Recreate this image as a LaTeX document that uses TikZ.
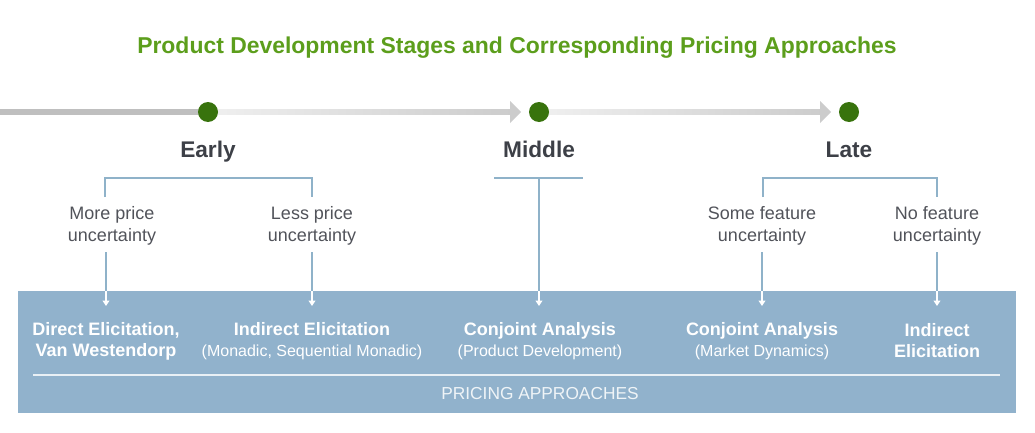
\documentclass[tikz,border=0pt]{standalone}
\usepackage{fontspec}
\setmainfont{Liberation Sans}
\usetikzlibrary{arrows.meta}
\definecolor{titlegreen}{rgb}{0.36,0.62,0.11}
\definecolor{dotgreen}{rgb}{0.22,0.45,0.05}
\definecolor{stagegray}{rgb}{0.24,0.25,0.28}
\definecolor{bracketblue}{rgb}{0.56,0.70,0.79}
\definecolor{boxblue}{rgb}{0.57,0.70,0.80}
\newcommand{\subnote}[1]{{\fontsize{12}{15}\selectfont\mdseries #1}}
\tikzset{every picture/.style={line width=0.75pt}}
\tikzset{
  stage/.style={inner sep=0.75pt, anchor=base, text=stagegray, font=\fontsize{17}{20}\selectfont\bfseries},
  cond/.style={inner sep=0.75pt, align=center, text=stagegray!90, font=\fontsize{13.5}{16.5}\selectfont},
  approach/.style={inner sep=0.75pt, align=center, text=white, font=\fontsize{13.5}{15.8}\selectfont\bfseries},
  bracket/.style={draw=bracketblue, line width=1.2pt},
  drop/.style={draw=white, line width=1pt, -{Triangle[width=5pt,length=4pt]}},
  dot/.style={circle, fill=dotgreen, minimum size=15pt, inner sep=0pt}
}

\begin{document}
\begin{tikzpicture}[x=0.75pt,y=0.75pt,yscale=-1,xscale=1]
\path[use as bounding box] (0,0) rectangle (1035,432);

% Title
\draw (517,48) node [inner sep=0.75pt, text=titlegreen, font=\fontsize{17.2}{20}\selectfont\bfseries] (title) {Product Development Stages and Corresponding Pricing Approaches};

% Timeline
\coordinate (start) at (0,112);
\coordinate (dotE) at (208,112);
\draw [line width=4pt, black!25] (start) -- (dotE);
\shade [left color=black!6, right color=black!20] (208,109.5) rectangle (512,114.5);
\shade [left color=black!6, right color=black!20] (539,109.5) rectangle (822,114.5);
\fill [black!20] (510,101) -- (521,112) -- (510,123) -- cycle;
\fill [black!20] (820,101) -- (831,112) -- (820,123) -- cycle;
\node [dot] (early dot) at (dotE) {};
\node [dot] (middle dot) at (539,112) {};
\node [dot] (late dot) at (849,112) {};

% Stage labels
\draw (208,157) node [stage] (early) {Early};
\draw (539,157) node [stage] (middle) {Middle};
\draw (849,157) node [stage] (late) {Late};

% Approaches box
\fill [boxblue] (18,291) rectangle (1016,413);
\draw [white!80!boxblue, line width=1pt] (33,375) -- (1000,375);
\draw (540,394) node [inner sep=0.75pt, text=white!85!boxblue, font=\fontsize{13}{15}\selectfont] (pa) {PRICING APPROACHES};

\draw (106,341) node [approach] (a1) {Direct Elicitation,\\Van Westendorp};
\draw (312,341) node [approach] (a2) {Indirect Elicitation\\\subnote{(Monadic, Sequential Monadic)}};
\draw (540,341) node [approach] (a3) {Conjoint Analysis\\\subnote{(Product Development)}};
\draw (762,341) node [approach] (a4) {Conjoint Analysis\\\subnote{(Market Dynamics)}};
\draw (937,341) node [approach] (a5) {Indirect\\Elicitation};

% Conditions
\draw (112,226) node [cond] (c1) {More price\\uncertainty};
\draw (312,226) node [cond] (c2) {Less price\\uncertainty};
\draw (762,226) node [cond] (c4) {Some feature\\uncertainty};
\draw (937,226) node [cond] (c5) {No feature\\uncertainty};

% Brackets
\draw [bracket] (105,197) -- (105,178) -- (312,178) -- (312,197);
\draw [bracket] (494,178) -- (583,178);
\draw [bracket] (763,197) -- (763,178) -- (937,178) -- (937,197);

% Drops into the box
\foreach \x/\n in {106/1, 312/2, 539/3, 762/4, 937/5} {
  \coordinate (top\n) at (\x,291);
  \coordinate (tip\n) at (\x,306);
}
\coordinate (from1) at (106,252);
\coordinate (from3) at (539,178);
\draw [bracket] (from1) -- (top1);
\draw [bracket] (c2.south |- 0,252) -- (top2);
\draw [bracket] (from3) -- (top3);
\draw [bracket] (c4.south |- 0,252) -- (top4);
\draw [bracket] (c5.south |- 0,252) -- (top5);
\foreach \n in {1,...,5} \draw [drop] (top\n) -- (tip\n);

\end{tikzpicture}
\end{document}
